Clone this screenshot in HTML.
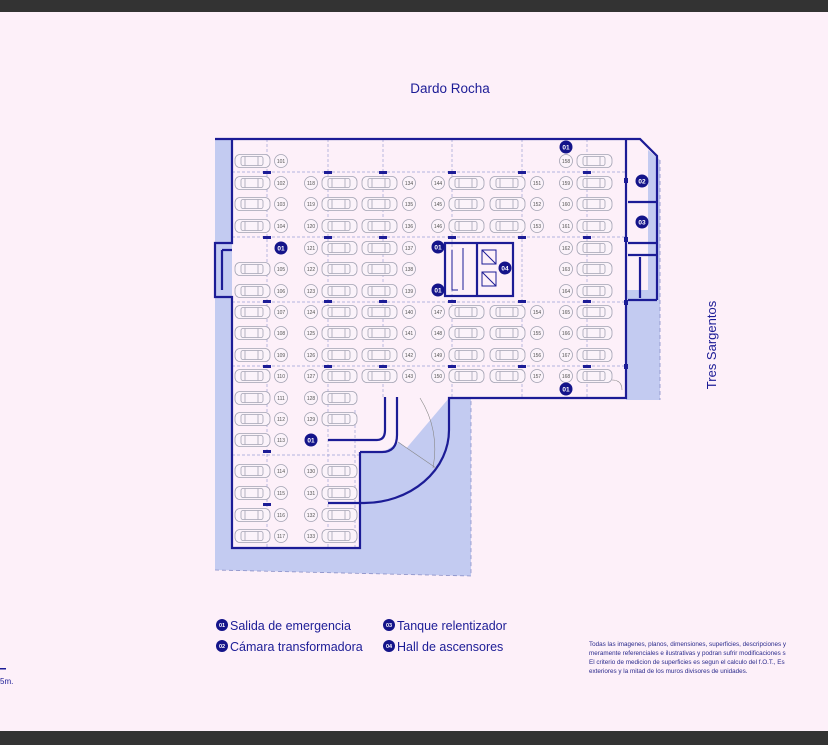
<!DOCTYPE html>
<html><head><meta charset="utf-8"><style>
html,body{margin:0;padding:0;width:828px;height:745px;overflow:hidden;background:#fdf0f9;}
svg{position:absolute;left:0;top:0;}
text{font-family:"Liberation Sans",sans-serif;}
</style></head><body>
<svg width="828" height="745" viewBox="0 0 828 745" xmlns="http://www.w3.org/2000/svg">
<defs>
<g id="car" fill="none" stroke="#a3a3b3" stroke-width="0.8">
<rect x="0" y="-6.5" width="35" height="13" rx="5" fill="#fbf3fa"/>
<rect x="6" y="-4.5" width="22" height="9" rx="2"/>
<line x1="10" y1="-4.5" x2="10" y2="4.5"/><line x1="23" y1="-4.5" x2="23" y2="4.5"/>
</g>
<g id="lab"><circle r="6.5" fill="#fbf3fa" stroke="#a3a3b3" stroke-width="0.8"/></g>
</defs>
<rect x="0" y="0" width="828" height="12" fill="#333"/>
<rect x="0" y="731" width="828" height="14" fill="#333"/>

<!-- shaded areas -->
<polygon points="215,139 232,139 232,570 215,570" fill="#c3cbf1"/>
<polygon points="215,548 471,548 471,576 215,570" fill="#c3cbf1"/>
<polygon points="360,452 383,452 398,443 438,470 Q410,500 364,503 L360,503 Z" fill="#c3cbf1"/>
<path d="M360,452 L383,452 Q396,450 399,442 L436,470 Q415,500 364,503 L360,503 Z" fill="#c3cbf1"/>
<polygon points="449,398 471,398 471,548 360,548 360,503 Q449,500 449,430 Z" fill="#c3cbf1"/>
<polygon points="626,290 660,290 660,400 626,400" fill="#c3cbf1"/>
<polygon points="648,150 660,160 660,290 648,290" fill="#c3cbf1"/>
<path d="M215,570 L471,576 L471,400 M660,160 L660,400" fill="none" stroke="#8a90c8" stroke-width="0.8" stroke-dasharray="4,3"/>

<!-- grid dashed -->
<g stroke="#9ca0d6" stroke-width="0.7" stroke-dasharray="3,2" fill="none">
<line x1="232" y1="172" x2="626" y2="172"/><line x1="232" y1="237" x2="626" y2="237"/>
<line x1="232" y1="302" x2="626" y2="302"/><line x1="232" y1="366" x2="626" y2="366"/>
<line x1="232" y1="455" x2="360" y2="455"/>
<line x1="267" y1="139" x2="267" y2="548"/><line x1="328" y1="139" x2="328" y2="548"/>
<line x1="383" y1="139" x2="383" y2="398"/><line x1="452" y1="139" x2="452" y2="398"/>
<line x1="522" y1="139" x2="522" y2="398"/><line x1="587" y1="139" x2="587" y2="398"/>
<line x1="355" y1="410" x2="355" y2="548"/>
</g>
<g fill="#1c1c96">
<rect x="263" y="171" width="8" height="3"/><rect x="324" y="171" width="8" height="3"/><rect x="379" y="171" width="8" height="3"/><rect x="448" y="171" width="8" height="3"/><rect x="518" y="171" width="8" height="3"/><rect x="583" y="171" width="8" height="3"/>
<rect x="263" y="236" width="8" height="3"/><rect x="324" y="236" width="8" height="3"/><rect x="379" y="236" width="8" height="3"/><rect x="448" y="236" width="8" height="3"/><rect x="518" y="236" width="8" height="3"/><rect x="583" y="236" width="8" height="3"/>
<rect x="263" y="300" width="8" height="3"/><rect x="324" y="300" width="8" height="3"/><rect x="379" y="300" width="8" height="3"/><rect x="448" y="300" width="8" height="3"/><rect x="518" y="300" width="8" height="3"/><rect x="583" y="300" width="8" height="3"/>
<rect x="263" y="365" width="8" height="3"/><rect x="324" y="365" width="8" height="3"/><rect x="379" y="365" width="8" height="3"/><rect x="448" y="365" width="8" height="3"/><rect x="518" y="365" width="8" height="3"/><rect x="583" y="365" width="8" height="3"/>
<rect x="263" y="450" width="8" height="3"/><rect x="263" y="503" width="8" height="3"/>
<rect x="624" y="178" width="4" height="5"/><rect x="624" y="237" width="4" height="5"/><rect x="624" y="300" width="4" height="5"/><rect x="624" y="364" width="4" height="5"/>
</g>

<!-- walls -->
<g fill="none" stroke="#1c1c96" stroke-width="2.2">
<path d="M215,139 L640,139 L657,156 L657,300"/>
<path d="M232,139 L232,243 L215,243 L215,297 L232,297 L232,548 L360,548 L360,452"/>
<path d="M626,139 L626,398 L449,398 L449,430 A85,73 0 0 1 364,503 L328,503"/>
<path d="M328,440 L377,440 Q385,440 385,430 L385,397"/>
<path d="M360,452 L382,452 Q397,452 397,435 L397,397"/>
<path d="M628,202 L656,202 M628,243 L656,243"/>
<path d="M628,255 L656,255 M628,300 L657,300 M640,257 L640,298"/>
<path d="M222,250 L222,290 M222,250 L232,250"/>
<rect x="445" y="243" width="68" height="53"/>
<path d="M477,243 L477,296"/>
</g>
<g fill="none" stroke="#1c1c96" stroke-width="1">
<path d="M452,250 L452,290 L458,290 M463,248 L463,290"/>
<rect x="482" y="250" width="14" height="14"/><rect x="482" y="272" width="14" height="14"/>
<path d="M482,250 L496,264 M482,272 L496,286"/>
</g>
<g fill="none" stroke="#888" stroke-width="0.6">
<line x1="398" y1="442" x2="436" y2="468"/>
<path d="M420,398 Q440,430 433,468"/>
<path d="M612,380 Q622,380 622,390"/>
</g>

<!-- cars -->
<g>
<use href="#car" x="235" y="161"/><use href="#car" x="235" y="183"/><use href="#car" x="235" y="204"/><use href="#car" x="235" y="226"/>
<use href="#car" x="235" y="269"/><use href="#car" x="235" y="291"/><use href="#car" x="235" y="312"/><use href="#car" x="235" y="333"/><use href="#car" x="235" y="355"/><use href="#car" x="235" y="376"/><use href="#car" x="235" y="398"/><use href="#car" x="235" y="419"/><use href="#car" x="235" y="440"/>
<use href="#car" x="235" y="471"/><use href="#car" x="235" y="493"/><use href="#car" x="235" y="515"/><use href="#car" x="235" y="536"/>
<use href="#car" x="322" y="183"/><use href="#car" x="322" y="204"/><use href="#car" x="322" y="226"/><use href="#car" x="322" y="248"/><use href="#car" x="322" y="269"/><use href="#car" x="322" y="291"/><use href="#car" x="322" y="312"/><use href="#car" x="322" y="333"/><use href="#car" x="322" y="355"/><use href="#car" x="322" y="376"/><use href="#car" x="322" y="398"/><use href="#car" x="322" y="419"/>
<use href="#car" x="322" y="471"/><use href="#car" x="322" y="493"/><use href="#car" x="322" y="515"/><use href="#car" x="322" y="536"/>
<use href="#car" x="362" y="183"/><use href="#car" x="362" y="204"/><use href="#car" x="362" y="226"/><use href="#car" x="362" y="248"/><use href="#car" x="362" y="269"/><use href="#car" x="362" y="291"/><use href="#car" x="362" y="312"/><use href="#car" x="362" y="333"/><use href="#car" x="362" y="355"/><use href="#car" x="362" y="376"/>
<use href="#car" x="449" y="183"/><use href="#car" x="449" y="204"/><use href="#car" x="449" y="226"/><use href="#car" x="449" y="312"/><use href="#car" x="449" y="333"/><use href="#car" x="449" y="355"/><use href="#car" x="449" y="376"/>
<use href="#car" x="490" y="183"/><use href="#car" x="490" y="204"/><use href="#car" x="490" y="226"/><use href="#car" x="490" y="312"/><use href="#car" x="490" y="333"/><use href="#car" x="490" y="355"/><use href="#car" x="490" y="376"/>
<use href="#car" x="577" y="161"/><use href="#car" x="577" y="183"/><use href="#car" x="577" y="204"/><use href="#car" x="577" y="226"/><use href="#car" x="577" y="248"/><use href="#car" x="577" y="269"/><use href="#car" x="577" y="291"/><use href="#car" x="577" y="312"/><use href="#car" x="577" y="333"/><use href="#car" x="577" y="355"/><use href="#car" x="577" y="376"/>
</g>

<!-- label circles -->
<g>
<use href="#lab" x="281" y="161"/><use href="#lab" x="281" y="183"/><use href="#lab" x="281" y="204"/><use href="#lab" x="281" y="226"/><use href="#lab" x="281" y="269"/><use href="#lab" x="281" y="291"/><use href="#lab" x="281" y="312"/><use href="#lab" x="281" y="333"/><use href="#lab" x="281" y="355"/><use href="#lab" x="281" y="376"/><use href="#lab" x="281" y="398"/><use href="#lab" x="281" y="419"/><use href="#lab" x="281" y="440"/><use href="#lab" x="281" y="471"/><use href="#lab" x="281" y="493"/><use href="#lab" x="281" y="515"/><use href="#lab" x="281" y="536"/>
<use href="#lab" x="311" y="183"/><use href="#lab" x="311" y="204"/><use href="#lab" x="311" y="226"/><use href="#lab" x="311" y="248"/><use href="#lab" x="311" y="269"/><use href="#lab" x="311" y="291"/><use href="#lab" x="311" y="312"/><use href="#lab" x="311" y="333"/><use href="#lab" x="311" y="355"/><use href="#lab" x="311" y="376"/><use href="#lab" x="311" y="398"/><use href="#lab" x="311" y="419"/><use href="#lab" x="311" y="471"/><use href="#lab" x="311" y="493"/><use href="#lab" x="311" y="515"/><use href="#lab" x="311" y="536"/>
<use href="#lab" x="409" y="183"/><use href="#lab" x="409" y="204"/><use href="#lab" x="409" y="226"/><use href="#lab" x="409" y="248"/><use href="#lab" x="409" y="269"/><use href="#lab" x="409" y="291"/><use href="#lab" x="409" y="312"/><use href="#lab" x="409" y="333"/><use href="#lab" x="409" y="355"/><use href="#lab" x="409" y="376"/>
<use href="#lab" x="438" y="183"/><use href="#lab" x="438" y="204"/><use href="#lab" x="438" y="226"/><use href="#lab" x="438" y="312"/><use href="#lab" x="438" y="333"/><use href="#lab" x="438" y="355"/><use href="#lab" x="438" y="376"/>
<use href="#lab" x="537" y="183"/><use href="#lab" x="537" y="204"/><use href="#lab" x="537" y="226"/><use href="#lab" x="537" y="312"/><use href="#lab" x="537" y="333"/><use href="#lab" x="537" y="355"/><use href="#lab" x="537" y="376"/>
<use href="#lab" x="566" y="161"/><use href="#lab" x="566" y="183"/><use href="#lab" x="566" y="204"/><use href="#lab" x="566" y="226"/><use href="#lab" x="566" y="248"/><use href="#lab" x="566" y="269"/><use href="#lab" x="566" y="291"/><use href="#lab" x="566" y="312"/><use href="#lab" x="566" y="333"/><use href="#lab" x="566" y="355"/><use href="#lab" x="566" y="376"/>
</g>
<g font-size="5" fill="#555" text-anchor="middle">
<text x="281" y="163">101</text><text x="281" y="185">102</text><text x="281" y="206">103</text><text x="281" y="228">104</text><text x="281" y="271">105</text><text x="281" y="293">106</text><text x="281" y="314">107</text><text x="281" y="335">108</text><text x="281" y="357">109</text><text x="281" y="378">110</text><text x="281" y="400">111</text><text x="281" y="421">112</text><text x="281" y="442">113</text><text x="281" y="473">114</text><text x="281" y="495">115</text><text x="281" y="517">116</text><text x="281" y="538">117</text>
<text x="311" y="185">118</text><text x="311" y="206">119</text><text x="311" y="228">120</text><text x="311" y="250">121</text><text x="311" y="271">122</text><text x="311" y="293">123</text><text x="311" y="314">124</text><text x="311" y="335">125</text><text x="311" y="357">126</text><text x="311" y="378">127</text><text x="311" y="400">128</text><text x="311" y="421">129</text><text x="311" y="473">130</text><text x="311" y="495">131</text><text x="311" y="517">132</text><text x="311" y="538">133</text>
<text x="409" y="185">134</text><text x="409" y="206">135</text><text x="409" y="228">136</text><text x="409" y="250">137</text><text x="409" y="271">138</text><text x="409" y="293">139</text><text x="409" y="314">140</text><text x="409" y="335">141</text><text x="409" y="357">142</text><text x="409" y="378">143</text>
<text x="438" y="185">144</text><text x="438" y="206">145</text><text x="438" y="228">146</text><text x="438" y="314">147</text><text x="438" y="335">148</text><text x="438" y="357">149</text><text x="438" y="378">150</text>
<text x="537" y="185">151</text><text x="537" y="206">152</text><text x="537" y="228">153</text><text x="537" y="314">154</text><text x="537" y="335">155</text><text x="537" y="357">156</text><text x="537" y="378">157</text>
<text x="566" y="163">158</text><text x="566" y="185">159</text><text x="566" y="206">160</text><text x="566" y="228">161</text><text x="566" y="250">162</text><text x="566" y="271">163</text><text x="566" y="293">164</text><text x="566" y="314">165</text><text x="566" y="335">166</text><text x="566" y="357">167</text><text x="566" y="378">168</text>
</g>

<!-- markers -->
<g fill="#14148a">
<circle cx="281" cy="248" r="6.5"/><circle cx="311" cy="440" r="6.5"/><circle cx="438" cy="247" r="6.5"/><circle cx="438" cy="290" r="6.5"/>
<circle cx="566" cy="147" r="6.5"/><circle cx="566" cy="389" r="6.5"/><circle cx="505" cy="268" r="6.5"/>
<circle cx="642" cy="181" r="6.5"/><circle cx="642" cy="222" r="6.5"/>
</g>
<g font-size="6.5" font-weight="bold" fill="#fff" text-anchor="middle">
<text x="281" y="250.5">01</text><text x="311" y="442.5">01</text><text x="438" y="249.5">01</text><text x="438" y="292.5">01</text>
<text x="566" y="149.5">01</text><text x="566" y="391.5">01</text><text x="505" y="270.5">04</text>
<text x="642" y="183.5">02</text><text x="642" y="224.5">03</text>
</g>

<text x="450" y="93" font-size="13.5" fill="#1c1c96" text-anchor="middle">Dardo Rocha</text>
<text transform="translate(716,345) rotate(-90)" font-size="13" fill="#1c1c96" text-anchor="middle">Tres Sargentos</text>

<!-- legend -->
<g fill="#14148a"><circle cx="222" cy="625" r="6"/><circle cx="222" cy="646" r="6"/><circle cx="389" cy="625" r="6"/><circle cx="389" cy="646" r="6"/></g>
<g font-size="5.5" font-weight="bold" fill="#fff" text-anchor="middle">
<text x="222" y="627">01</text><text x="222" y="648">02</text><text x="389" y="627">03</text><text x="389" y="648">04</text></g>
<g font-size="12.5" fill="#1c1c96">
<text x="230" y="630">Salida de emergencia</text><text x="230" y="651">Cámara transformadora</text>
<text x="397" y="630">Tanque relentizador</text><text x="397" y="651">Hall de ascensores</text>
</g>
<rect x="0" y="668" width="6" height="1.5" fill="#1c1c96"/>
<text x="0" y="684" font-size="8" fill="#1c1c96">5m.</text>
<g font-size="6.3" fill="#2a2a8c">
<text x="589" y="646">Todas las imagenes, planos, dimensiones, superficies, descripciones y</text>
<text x="589" y="655">meramente referenciales e ilustrativas y podran sufrir modificaciones s</text>
<text x="589" y="664">El criterio de medicion de superficies es segun el calculo del f.O.T., Es</text>
<text x="589" y="673">exteriores y la mitad de los muros divisores de unidades.</text>
</g>
</svg>
</body></html>
